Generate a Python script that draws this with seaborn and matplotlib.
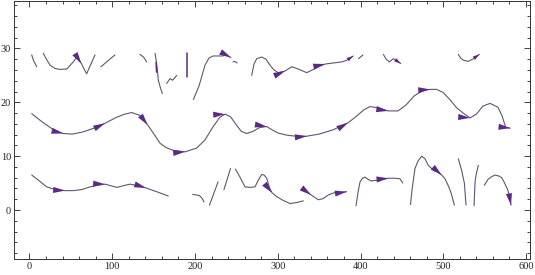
import numpy as np
import pandas as pd
import matplotlib
matplotlib.use("Agg")
import matplotlib.pyplot as plt
import seaborn as sns
from matplotlib.ticker import MultipleLocator

sns.set_theme(style="white")
plt.rcParams["font.family"] = ["Liberation Serif", "DejaVu Serif"]

# ---------------- data (streamline traces, data units) ----------------
# middle continuous streamline
mid_x = [2.7, 15, 28, 40.8, 52, 64.7, 78, 91.2, 105, 115, 123.5, 133, 142.8, 150, 157.7, 165, 173.4,
         187.9, 202, 212, 222, 230, 236.3, 243, 250, 256, 262.5, 270, 278, 286.6, 293, 300.3, 310.8,
         322, 335, 350, 367, 385, 395, 404, 411.5, 420, 433.3, 445.3, 455, 465, 475, 484, 492, 500,
         508, 516, 524, 532.3, 540, 548, 556.5, 566, 571, 575.5, 581]
mid_y = [17.9, 16.4, 15.0, 14.2, 14.1, 14.5, 15.2, 16.1, 17.2, 17.8, 18.1, 17.6, 15.8, 14.2, 12.4, 11.6, 11.1,
         10.8, 11.5, 13.0, 15.5, 17.2, 17.8, 17.3, 15.8, 14.6, 14.2, 14.6, 15.3, 15.5, 14.9, 14.3, 13.9,
         13.7, 13.7, 14.1, 14.9, 16.2, 17.4, 18.6, 19.2, 19.0, 18.4, 18.4, 19.5, 21.2, 22.2, 22.4, 22.4, 21.8,
         20.5, 19.0, 18.0, 17.1, 17.8, 19.3, 19.8, 19.1, 17.5, 15.3, 15.2]

# top row fragments
top_a = ([2.7, 4.8, 8.7], [28.8, 27.8, 26.6])
top_b = ([16.7, 20.5, 24.8, 30.5, 36.9, 45.3, 52.9, 56.8, 62.8, 65.9, 69.1, 73.1, 79.2],
         [29.1, 28.0, 26.9, 26.3, 26.1, 26.2, 27.5, 28.3, 27.2, 26.2, 25.3, 26.7, 28.8])
top_d = ([86.4, 93.3, 97, 103.3], [26.6, 27.5, 28.0, 28.8])
top_e = ([133.5, 137.8, 141.6], [28.9, 28.4, 27.5])
top_f = ([151.7, 153.0, 154.1, 155.7, 158, 160.5], [29.1, 27.9, 26.7, 24.1, 22.8, 21.6])
top_g = ([165.8, 169.8, 173.1, 177.9], [23.5, 24.4, 24.1, 25.0])
top_i = ([198, 204.8, 212.1, 216.9, 221.8, 233.8, 236.3, 243.5], [20.5, 23.0, 26.9, 28.2, 28.6, 28.6, 28.9, 28.3])
top_i2 = ([245.9, 248, 250.8], [27.5, 27.6, 27.3])
top_j = ([268.5, 271.3, 274.6, 280.6, 285.8, 290.6, 295.5, 300.7, 308.8, 316.9, 324.5, 335, 343, 349.9,
          357.1, 367.1, 377.3, 383.3, 391.3],
         [25.0, 27.1, 28.1, 28.4, 28.0, 26.9, 26.0, 25.5, 25.8, 26.6, 26.2, 25.5, 26.1, 26.7,
          27.1, 27.3, 27.5, 27.8, 28.6])
top_k = ([397.6, 403], [28.1, 28.8])
top_l = ([427.6, 431, 434.8, 439.7, 443.8, 448.6], [28.9, 28.0, 27.5, 28.1, 27.7, 27.2])
top_m = ([518.2, 521, 524.3, 530.3, 536.3, 543.6], [28.9, 28.2, 27.8, 27.6, 28.1, 28.9])
top_purple_f = ([153.0, 153.6], [27.4, 25.6])
top_purple_h = ([190.7, 190.7], [29.1, 24.7])

# bottom row fragments
bot_n = ([2.7, 10.3, 20.8, 30.8, 42.9, 52.9, 63.4, 73.1, 82, 91.2, 98.5, 105.7, 113, 121.5, 131.1, 140.8, 153.7, 167.7],
         [6.5, 5.6, 4.3, 3.8, 3.6, 3.6, 3.8, 4.3, 4.6, 4.8, 4.5, 4.2, 4.5, 4.8, 4.5, 4.1, 3.4, 2.6])
bot_o = ([197.2, 205.2, 208.5, 210.9], [2.9, 2.7, 2.2, 1.5])
bot_p = ([217.5, 227.8], [0.9, 5.2])
bot_q = ([235, 242.9], [3.8, 7.7])
bot_r = ([248.9, 254.4, 260.4, 266.5, 272.5, 276.7, 280.6, 283.4, 286.7, 290, 293.1, 298.7, 306.4, 314.8, 323.3, 330.9],
         [7.6, 6.1, 4.3, 4.2, 4.3, 5.6, 6.6, 6.5, 5.9, 4.1, 3.2, 2.5, 1.8, 1.2, 1.4, 1.7])
bot_s = ([334.1, 340.2, 349, 354.7, 361.1, 368, 375.2, 383.3], [3.6, 2.8, 1.9, 2.1, 2.8, 3.2, 3.2, 3.4])
bot_t = ([394.6, 397, 399.4, 402.4, 405.4, 409.1, 412.7, 423.6, 433.6, 441.7, 447.7, 451],
         [0.8, 3.3, 5.2, 5.9, 6.1, 5.7, 5.4, 5.6, 5.9, 5.9, 5.8, 5.0])
bot_u = ([460.4, 462.2, 465.8, 469.5, 474, 478, 481.9, 488, 492.5, 498.1, 502.1, 505.8, 509.4, 513.4],
         [1.0, 3.7, 7.7, 9.1, 10.0, 9.5, 8.3, 7.4, 7.1, 6.5, 5.8, 4.6, 3.2, 0.9])
bot_v = ([518.2, 522.1, 525.5, 527.5], [9.5, 7.4, 5.0, 0.9])
bot_w = ([542.4, 539.6, 538.4, 537.2], [8.3, 6.5, 5.2, 0.8])
bot_x = ([549.6, 554.1, 558.6, 562.6, 567.4, 570.7, 574.1, 578.0, 580.1, 581.9],
         [4.6, 5.7, 6.2, 6.5, 6.3, 6.0, 5.0, 3.7, 2.4, 0.9])

line_segments = {
    "mid": (mid_x, mid_y),
    "top_a": top_a, "top_b": top_b, "top_d": top_d, "top_e": top_e, "top_f": top_f,
    "top_g": top_g, "top_i": top_i, "top_i2": top_i2, "top_j": top_j, "top_k": top_k,
    "top_l": top_l, "top_m": top_m,
    "bot_n": bot_n, "bot_o": bot_o, "bot_p": bot_p, "bot_q": bot_q, "bot_r": bot_r,
    "bot_s": bot_s, "bot_t": bot_t, "bot_u": bot_u, "bot_v": bot_v, "bot_w": bot_w, "bot_x": bot_x,
}
purple_segments = {"top_purple_f": top_purple_f, "top_purple_h": top_purple_h}

# arrowheads: (segment, point index, size)
arrows = [
    ("mid", 3, "L"), ("mid", 7, "L"), ("mid", 12, "L"), ("mid", 17, "L"), ("mid", 22, "L"),
    ("mid", 29, "L"), ("mid", 34, "L"), ("mid", 37, "L"), ("mid", 42, "L"), ("mid", 47, "L"),
    ("mid", 53, "L"), ("mid", 60, "L"),
    ("top_b", 8, "L"), ("top_i", 7, "L"), ("top_j", 8, "L"), ("top_j", 14, "L"), ("top_j", 18, "S"),
    ("top_l", 5, "S"), ("top_m", 5, "S"),
    ("bot_n", 4, "L"), ("bot_n", 9, "L"), ("bot_n", 15, "L"), ("bot_r", 10, "L"),
    ("bot_s", 1, "L"), ("bot_s", 7, "L"), ("bot_t", 8, "L"), ("bot_u", 9, "L"), ("bot_x", 9, "L"),
]

LINE = "#5f5670"
HEAD = "#5a2a84"


def to_frame(segs):
    rows = []
    for name, (xs, ys) in segs.items():
        for i, (x, y) in enumerate(zip(xs, ys)):
            rows.append({"seg": name, "order": i, "x": x, "y": y})
    return pd.DataFrame(rows)


df = to_frame(line_segments)
dfp = to_frame(purple_segments)

fig = plt.figure(figsize=(5.35, 2.75), dpi=100)
ax = fig.add_axes([14 / 535, 15.7 / 275, 516 / 535, 258.8 / 275])

sns.lineplot(data=df, x="x", y="y", units="seg", estimator=None, sort=False,
             color=LINE, lw=0.8, ax=ax, legend=False)
sns.lineplot(data=dfp, x="x", y="y", units="seg", estimator=None, sort=False,
             color=HEAD, lw=1.1, ax=ax, legend=False)

all_segs = dict(line_segments)
for name, i, size in arrows:
    xs, ys = all_segs[name]
    j0 = max(i - 1, 0)
    j1 = min(i + 1, len(xs) - 1)
    dx = xs[j1] - xs[j0]
    dy = ys[j1] - ys[j0]
    if size == "L":
        style = "-|>,head_length=0.85,head_width=0.22"
        ms = 10
    else:
        style = "-|>,head_length=0.8,head_width=0.24"
        ms = 6
    ax.annotate("", xy=(xs[i], ys[i]), xytext=(xs[i] - dx * 0.5, ys[i] - dy * 0.5),
                arrowprops=dict(arrowstyle=style, mutation_scale=ms, lw=0,
                                fc=HEAD, ec=HEAD, shrinkA=0, shrinkB=0))

ax.set_xlim(-18.7, 604.8)
ax.set_ylim(-9.15, 38.9)
ax.xaxis.set_major_locator(MultipleLocator(100))
ax.xaxis.set_minor_locator(MultipleLocator(20))
ax.yaxis.set_major_locator(MultipleLocator(10))
ax.yaxis.set_minor_locator(MultipleLocator(2))
ax.tick_params(which="both", direction="in", top=True, right=True, bottom=True, left=True,
               colors="#222222", width=0.6, labelsize=7.5, pad=2)
ax.tick_params(which="major", length=4)
ax.tick_params(which="minor", length=2)
ax.set_xlabel("")
ax.set_ylabel("")
for s in ax.spines.values():
    s.set_visible(True)
    s.set_color("#333333")
    s.set_linewidth(0.7)
ax.set_facecolor("white")
fig.patch.set_facecolor("white")

fig.savefig("out.png", dpi=100)
